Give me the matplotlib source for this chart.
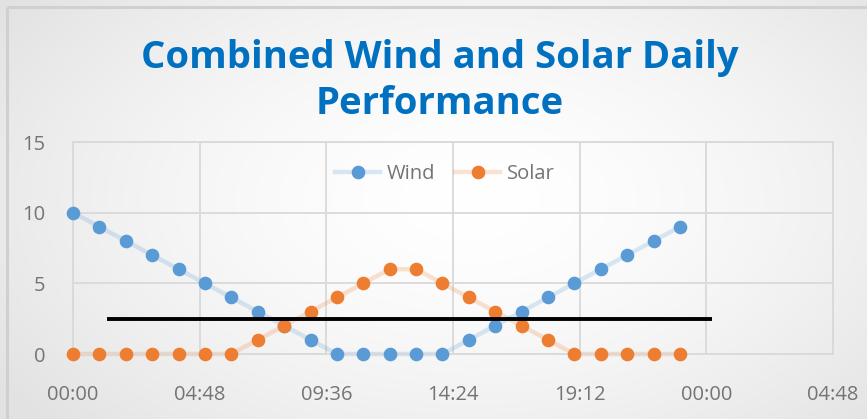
import numpy as np
import matplotlib
matplotlib.use("Agg")
import matplotlib.pyplot as plt
from matplotlib.lines import Line2D
from matplotlib.colors import to_rgba

# Hourly readings over one day
hours = list(range(24))
wind = [10, 9, 8, 7, 6, 5, 4, 3, 2, 1, 0, 0, 0, 0, 0, 1, 2, 3, 4, 5, 6, 7, 8, 9]
solar = [0, 0, 0, 0, 0, 0, 0, 1, 2, 3, 4, 5, 6, 6, 5, 4, 3, 2, 1, 0, 0, 0, 0, 0]

# Horizontal reference bar (level and span in hours)
ref_level = 2.5
ref_start_h = 1.3
ref_end_h = 24.2

x_ticks_days = [0.0, 0.2, 0.4, 0.6, 0.8, 1.0, 1.2]
x_tick_labels = ["00:00", "04:48", "09:36", "14:24", "19:12", "00:00", "04:48"]
y_ticks = [0, 5, 10, 15]

title = "Combined Wind and Solar Daily\nPerformance"

BLUE = "#5B9BD5"
ORANGE = "#ED7D31"
GRID = "#D9D9D9"
TEXT = "#747474"
LINE_ALPHA = 0.22

plt.rcParams["font.family"] = ["Open Sans", "DejaVu Sans"]

W, H = 867, 419
fig = plt.figure(figsize=(W / 100, H / 100), dpi=100)

# Soft radial background
bg = fig.add_axes([0, 0, 1, 1], zorder=-10)
yy, xx = np.mgrid[0:H, 0:W]
cx, cy = 470, 200
r = np.sqrt(((xx - cx) / 560.0) ** 2 + ((yy - cy) / 330.0) ** 2)
r = np.clip(r, 0, 1)
shade = 1.0 - 0.11 * r ** 1.6
img = np.dstack([shade, shade, shade])
bg.imshow(img, extent=[0, W, H, 0], aspect="auto", interpolation="bilinear")
bg.set_xlim(0, W)
bg.set_ylim(H, 0)
bg.axis("off")
# chart frame edges
bg.plot([7, 7], [7, H + 5], color="#D0D0D0", lw=2.2, solid_capstyle="butt")
bg.plot([7, W + 5], [7, 7], color="#D0D0D0", lw=2.2, solid_capstyle="butt")

ax = fig.add_axes([73 / W, (H - 354) / H, (833 - 73) / W, (354 - 142) / H])
ax.set_facecolor("none")

xd = [h / 24.0 for h in hours]

ax.plot(xd, wind, color=BLUE, alpha=LINE_ALPHA, lw=3.2, zorder=2, clip_on=False)
ax.plot(xd, solar, color=ORANGE, alpha=LINE_ALPHA, lw=3.2, zorder=2, clip_on=False)
ax.plot(xd, wind, ls="none", marker="o", ms=8.8, color=BLUE, mec=BLUE, zorder=3, clip_on=False)
ax.plot(xd, solar, ls="none", marker="o", ms=8.8, color=ORANGE, mec=ORANGE, zorder=4, clip_on=False)

ax.plot([ref_start_h / 24.0, ref_end_h / 24.0], [ref_level, ref_level],
        color="black", lw=2.8, zorder=5, clip_on=False, solid_capstyle="butt")

ax.set_xlim(0, 1.2)
ax.set_ylim(0, 15)
ax.set_xticks(x_ticks_days)
ax.set_xticklabels(x_tick_labels)
ax.set_yticks(y_ticks)
ax.grid(True, color=GRID, lw=1.3, zorder=0)
ax.set_axisbelow(True)
for s in ax.spines.values():
    s.set_color(GRID)
    s.set_linewidth(1.3)
ax.tick_params(length=0, labelsize=14.5, labelcolor=TEXT)
ax.tick_params(axis="x", pad=22)
ax.tick_params(axis="y", pad=20)

# faded line, full-colour marker in legend keys
handles = [
    Line2D([], [], color=to_rgba(BLUE, LINE_ALPHA), lw=3.2, marker="o", ms=8.8, mfc=BLUE, mec=BLUE),
    Line2D([], [], color=to_rgba(ORANGE, LINE_ALPHA), lw=3.2, marker="o", ms=8.8, mfc=ORANGE, mec=ORANGE),
]
leg = ax.legend(handles, ["Wind", "Solar"], loc="center", bbox_to_anchor=(445 / W, 1 - 174 / H),
                bbox_transform=fig.transFigure, ncol=2, frameon=False, fontsize=14.5,
                handlelength=2.2, columnspacing=1.0, handletextpad=0.35)
for t in leg.get_texts():
    t.set_color(TEXT)

fig.text(440 / W, 1 - 81 / H, title, ha="center", va="center", fontsize=27.5,
         fontweight="bold", color="#0070C0", linespacing=1.28)

fig.savefig("out.png", dpi=100)
